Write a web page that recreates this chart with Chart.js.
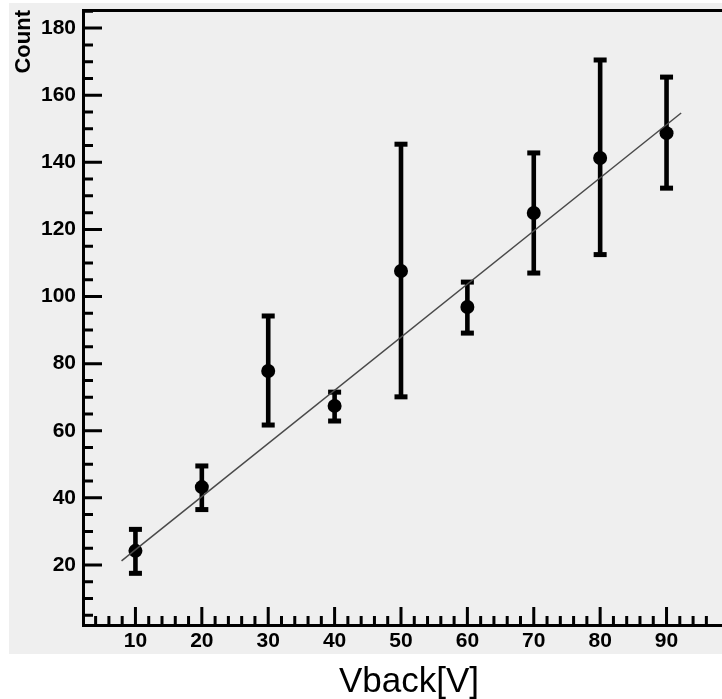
<!DOCTYPE html>
<html>
<head>
<meta charset="utf-8">
<title>Count vs Vback</title>
<script src="https://cdn.jsdelivr.net/npm/chart.js@4.4.0/dist/chart.umd.min.js"></script>
<style>
  html, body { margin: 0; padding: 0; background: #ffffff; }
  #wrap { width: 722px; height: 699px; }
</style>
</head>
<body>
<div id="wrap"><canvas id="myChart" width="722" height="699"></canvas></div>
<script>
// measured points: back voltage vs counts, with lower/upper error ends
var vback = [10, 20, 30, 40, 50, 60, 70, 80, 90];
var counts = [24.2, 43.2, 77.8, 67.4, 107.6, 96.9, 124.9, 141.3, 148.7];
var countsLow = [17.5, 36.5, 61.7, 62.9, 70.1, 89.1, 107.0, 112.5, 132.3];
var countsHigh = [30.6, 49.5, 94.2, 71.5, 145.4, 104.3, 142.8, 170.5, 165.4];

// straight-line fit, end points
var fitX = [7.9, 92.2];
var fitY = [21.2, 154.7];

// labelled ticks
var xTickLabels = [10, 20, 30, 40, 50, 60, 70, 80, 90];
var yTickLabels = [20, 40, 60, 80, 100, 120, 140, 160, 180];

var X_MIN = 2.1, X_MAX = 97.3;
var Y_MIN = 1.8, Y_MAX = 185.4;
var X_TITLE = 'Vback[V]';

Chart.defaults.font.family = '"Liberation Sans", Arial, Helvetica, sans-serif';
Chart.defaults.color = '#000';

// page background + grey pad
var padPlugin = {
  id: 'pad',
  beforeDraw: function (chart) {
    var ctx = chart.ctx;
    ctx.save();
    ctx.fillStyle = '#ffffff';
    ctx.fillRect(0, 0, chart.width, chart.height);
    ctx.fillStyle = '#efefef';
    ctx.fillRect(9, 3, chart.width - 9, 651);
    ctx.restore();
  },
  afterDraw: function (chart) {
    // x title sits on the white strip under the pad
    var ctx = chart.ctx;
    ctx.save();
    ctx.fillStyle = '#000';
    ctx.font = '35px "Liberation Sans", Arial, sans-serif';
    ctx.textAlign = 'center';
    ctx.textBaseline = 'alphabetic';
    ctx.fillText(X_TITLE, 409, 692);
    ctx.restore();
  }
};

// axis lines with inward major/minor ticks
var framePlugin = {
  id: 'frame',
  beforeDatasetsDraw: function (chart) {
    var ctx = chart.ctx, a = chart.chartArea;
    var xs = chart.scales.x, ys = chart.scales.y;
    ctx.save();
    ctx.strokeStyle = '#000';
    ctx.lineWidth = 3;
    ctx.lineCap = 'butt';
    ctx.beginPath();
    ctx.moveTo(a.left, a.top + 0.5);
    ctx.lineTo(chart.width, a.top + 0.5);
    ctx.moveTo(a.left + 0.5, a.top - 1);
    ctx.lineTo(a.left + 0.5, a.bottom + 1);
    ctx.moveTo(a.left - 1, a.bottom - 0.5);
    ctx.lineTo(chart.width, a.bottom - 0.5);

    var v, p, len;
    for (v = 5; v < Y_MAX; v += 5) {
      if (v < Y_MIN) continue;
      p = ys.getPixelForValue(v);
      len = (v % 20 === 0) ? 19 : 10;
      ctx.moveTo(a.left, p);
      ctx.lineTo(a.left + len, p);
    }
    for (v = 4; v < X_MAX; v += 2) {
      p = xs.getPixelForValue(v);
      len = (v % 10 === 0) ? 19 : 10;
      ctx.moveTo(p, a.bottom);
      ctx.lineTo(p, a.bottom - len);
    }
    ctx.stroke();
    ctx.restore();
  }
};

// vertical error bars with flat caps
var errorBarPlugin = {
  id: 'errorBars',
  beforeDatasetsDraw: function (chart) {
    var ctx = chart.ctx;
    var xs = chart.scales.x, ys = chart.scales.y;
    ctx.save();
    ctx.fillStyle = '#000';
    for (var i = 0; i < vback.length; i++) {
      var px = xs.getPixelForValue(vback[i]);
      var top = ys.getPixelForValue(countsHigh[i]);
      var bot = ys.getPixelForValue(countsLow[i]);
      ctx.fillRect(px - 2.3, top, 4.6, bot - top);
      ctx.fillRect(px - 6.5, top - 2.5, 13, 5);
      ctx.fillRect(px - 6.5, bot - 2.5, 13, 5);
    }
    ctx.restore();
  }
};

var ctx = document.getElementById('myChart');
var chart = new Chart(ctx, {
  type: 'scatter',
  data: {
    datasets: [
      {
        label: 'fit',
        data: fitX.map(function (x, i) { return { x: x, y: fitY[i] }; }),
        showLine: true,
        borderColor: '#4a4a4a',
        borderWidth: 1.5,
        pointRadius: 0,
        fill: false
      },
      {
        label: 'Count',
        data: vback.map(function (x, i) { return { x: x, y: counts[i] }; }),
        pointRadius: 7,
        pointBackgroundColor: '#000',
        pointBorderWidth: 0,
        showLine: false
      }
    ]
  },
  options: {
    responsive: false,
    animation: false,
    devicePixelRatio: 1,
    layout: { padding: { top: 10, left: 0, right: 0, bottom: 0 } },
    plugins: {
      legend: { display: false },
      tooltip: { enabled: false }
    },
    scales: {
      x: {
        type: 'linear',
        min: X_MIN,
        max: X_MAX,
        grid: { display: false, drawTicks: false },
        border: { display: false },
        afterBuildTicks: function (scale) {
          scale.ticks = xTickLabels.map(function (v) { return { value: v }; });
        },
        afterFit: function (scale) {
          scale.height = 73;
          scale.paddingLeft = scale.paddingRight = 0;
        },
        ticks: {
          padding: 3,
          maxRotation: 0,
          font: { size: 21, weight: 'bold' },
          color: '#000'
        }
      },
      y: {
        type: 'linear',
        min: Y_MIN,
        max: Y_MAX,
        grid: { display: false, drawTicks: false },
        border: { display: false },
        afterBuildTicks: function (scale) {
          scale.ticks = yTickLabels.map(function (v) { return { value: v }; });
        },
        afterFit: function (scale) {
          scale.width = 83;
          scale.paddingTop = scale.paddingBottom = 0;
        },
        ticks: {
          padding: 7,
          font: { size: 21, weight: 'bold' },
          color: '#000'
        },
        title: {
          display: true,
          text: 'Count',
          align: 'end',
          font: { size: 22, weight: 'bold' },
          color: '#000',
          padding: { top: 11, bottom: 0 }
        }
      }
    }
  },
  plugins: [padPlugin, framePlugin, errorBarPlugin]
});
</script>
</body>
</html>
